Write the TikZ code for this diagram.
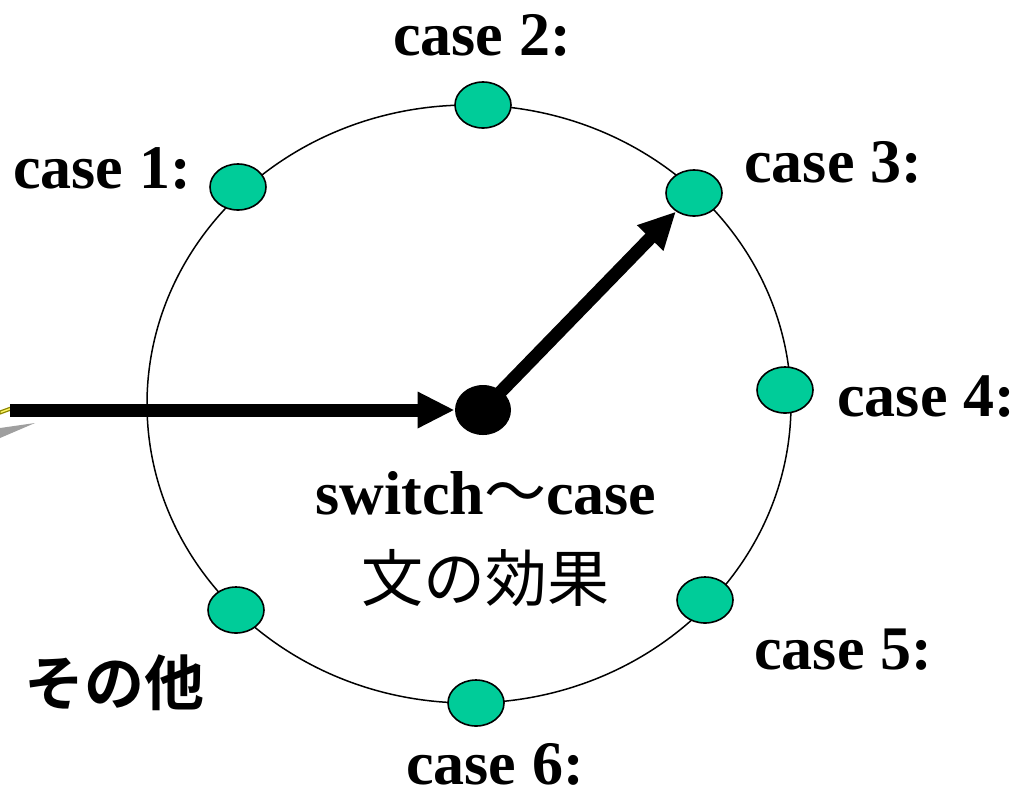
\documentclass[tikz,border=0pt]{standalone}
\usepackage{fontspec}
\setmainfont{Liberation Serif}
\newfontfamily\cjk{Noto Sans CJK JP}
\newfontfamily\cjkbold{Noto Sans CJK JP Bold}
\usetikzlibrary{shapes.geometric,arrows.meta}
\definecolor{dotgreen}{RGB}{0,204,153}
\tikzset{
  casedot/.style={ellipse,draw=black,line width=0.8pt,fill=dotgreen,inner sep=0pt,
                  minimum width=28pt,minimum height=23pt},
  caselabel/.style={font=\bfseries\fontsize{31}{36}\selectfont,inner sep=0pt},
  jplabel/.style={font=\cjk\fontsize{31}{36}\selectfont,inner sep=0pt},
  pointer/.style={line width=6.5pt,-{Triangle[length=18.5pt,width=17pt]}}
}
\begin{document}
\begin{tikzpicture}[x=0.5pt,y=-0.5pt]
  \useasboundingbox (0,0) rectangle (1027,794);

  % clock face
  \node[ellipse,draw=black,line width=0.75pt,inner sep=0pt,
        minimum width=322pt,minimum height=299pt] (ring) at (469,404) {};

  % case positions on the face
  \node[casedot] (d1) at (238,187) {};
  \node[casedot] (d2) at (483,105) {};
  \node[casedot] (d3) at (694,193) {};
  \node[casedot] (d4) at (785,390) {};
  \node[casedot] (d5) at (705,600) {};
  \node[casedot] (d6) at (476,703) {};
  \node[casedot] (d0) at (236,610) {};

  % hub
  \node[ellipse,fill=black,inner sep=0pt,minimum width=28pt,minimum height=25pt] (hub) at (483,410) {};

  % fragments at the left edge
  \fill[gray!75] (0,428) -- (35,423) -- (0,438) -- cycle;
  \draw[draw=olive,line width=0.6pt,fill=yellow!60] (0,411) -- (11,407) -- (11,410) -- (0,414) -- cycle;

  % pointers
  \coordinate (in) at (10,410);
  \draw[pointer] (in) -- (hub.west);
  \draw[pointer] (hub.center) -- (d3);

  % labels
  \node[caselabel] (l1) at (102,168) {case 1:};
  \node[caselabel] (l2) at (482,35) {case 2:};
  \node[caselabel] (l3) at (833,162) {case 3:};
  \node[caselabel] (l4) at (926,397) {case 4:};
  \node[caselabel] (l5) at (843,650) {case 5:};
  \node[caselabel] (l6) at (495,764) {case 6:};
  \node[caselabel] (title) at (486,493) {switch{\cjk\mdseries ～}case};
  \node[jplabel] (title2) at (485,578) {文の効果};
  \node[jplabel,font=\cjkbold\fontsize{30}{36}\selectfont] (other) at (115,683) {その他};
\end{tikzpicture}
\end{document}
